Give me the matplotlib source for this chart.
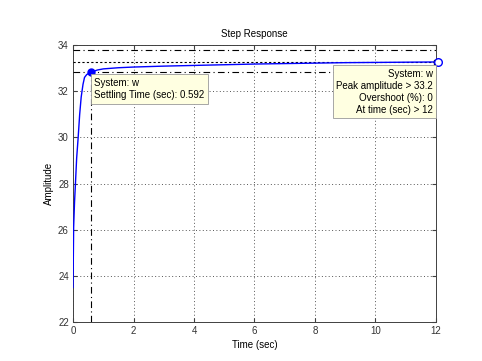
import matplotlib
matplotlib.use("Agg")
import matplotlib.pyplot as plt

plt.rcParams['font.family'] = ['Liberation Sans', 'DejaVu Sans']

t = [0, 0.02, 0.05, 0.08, 0.12, 0.17, 0.22, 0.27, 0.33, 0.38, 0.45, 0.52, 0.592, 0.8, 1.0, 1.5, 2.0, 3.0, 4.0, 5.0, 6.0, 7.0, 8.0, 9.0, 10.0, 11.0, 12.0]
y = [23.5, 26.1, 27.2, 28.0, 29.1, 30.0, 31.0, 31.75, 32.3, 32.6, 32.72, 32.78, 32.82, 32.92, 32.97, 33.02, 33.05, 33.09, 33.12, 33.15, 33.18, 33.2, 33.22, 33.24, 33.25, 33.26, 33.27]

settle_t = 0.592
settle_y = 32.82
final_y = 33.28
band_hi = 33.78
band_lo = 32.82
peak_t = 12
peak_y = 33.27

xticks = [0, 2, 4, 6, 8, 10, 12]
yticks = [22, 24, 26, 28, 30, 32, 34]

fig = plt.figure(figsize=(4.82, 3.61), dpi=100)
ax = fig.add_axes([0.1515, 0.108, 0.753, 0.767])
fs = 7

ax.plot(t, y, color='#0000FF', lw=1.0, zorder=4)
ax.axhline(band_hi, color='black', lw=0.8, ls=(0, (6, 3, 1, 3)), zorder=3)
ax.axhline(band_lo, color='black', lw=0.8, ls=(0, (6, 3, 1, 3)), zorder=3)
ax.axhline(final_y, color='black', lw=0.8, ls=(0, (2, 2)), zorder=3)
ax.plot([settle_t, settle_t], [22, settle_y], color='black', lw=0.8, ls=(0, (6, 3, 1, 3)), zorder=3)

ax.plot([settle_t], [settle_y], 'o', color='#0000FF', ms=5, zorder=6)
ax.plot([peak_t], [peak_y], 's', color='black', ms=3.5, zorder=6, clip_on=False)
ax.plot([peak_t + 0.08], [peak_y], 'o', mfc='white', mec='#0000FF', ms=5.5, mew=1, zorder=7, clip_on=False)

ax.set_xlim(0, 12)
ax.set_ylim(22, 34)
ax.set_xticks(xticks)
ax.set_yticks(yticks)
ax.tick_params(direction='in', length=3, labelsize=fs, colors='#404040', top=True, right=True, pad=3)
for lab in ax.get_xticklabels() + ax.get_yticklabels():
    lab.set_color('#333333')
ax.grid(True, color='#555555', ls=(0, (1, 2.5)), lw=0.7)
for s in ax.spines.values():
    s.set_color('#404040')
    s.set_linewidth(0.7)

ax.set_title('Step Response', fontsize=fs, pad=6)
ax.set_xlabel('Time (sec)', fontsize=fs, labelpad=3)
ax.set_ylabel('Amplitude', fontsize=fs, labelpad=3)

bbox = dict(boxstyle='square,pad=0.35', fc='#FFFFE1', ec='#999999', lw=0.6)
ax.text(0.7, 32.58, 'System: w\nSettling Time (sec): 0.592', fontsize=fs, ha='left', va='top',
        bbox=bbox, zorder=8, linespacing=1.3)
ax.text(11.9, 32.97, 'System: w\nPeak amplitude > 33.2\nOvershoot (%): 0\nAt time (sec) > 12', fontsize=fs,
        ha='right', va='top', multialignment='right', bbox=bbox, zorder=8, linespacing=1.25)

fig.savefig('out.png', dpi=100)
